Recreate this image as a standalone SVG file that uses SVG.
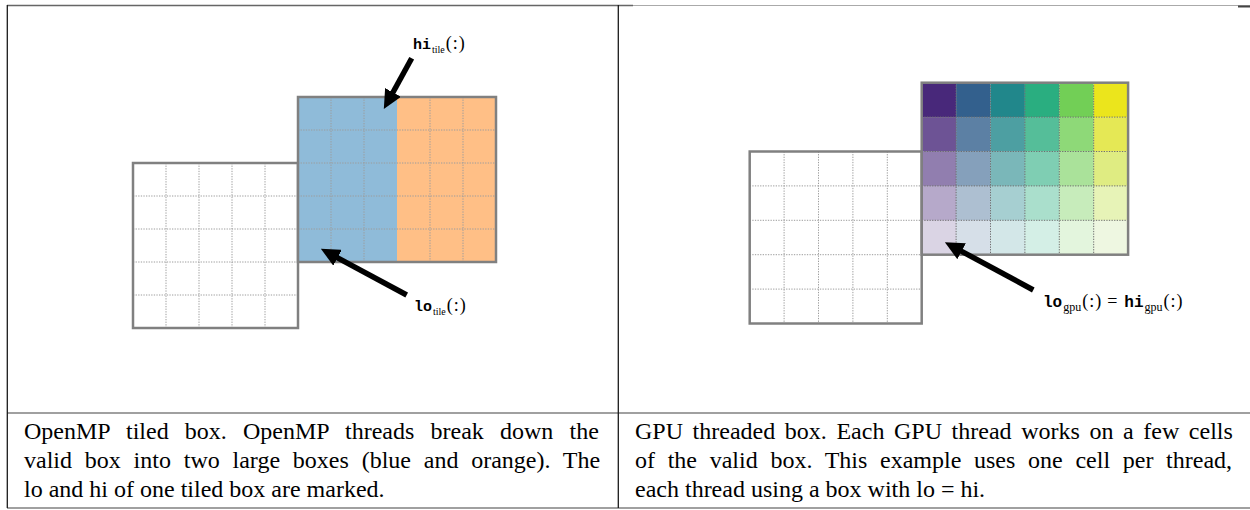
<svg xmlns="http://www.w3.org/2000/svg" width="1250" height="510" viewBox="0 0 1250 510">
<style>
.frame{fill:none;stroke:#808080;stroke-width:2.5}
.grid{fill:none;stroke:#9c9c9c;stroke-width:1;stroke-dasharray:1.3 1.3}
.gridd{fill:none;stroke:#6e6e6e;stroke-width:1;stroke-dasharray:1.3 1.3}
.tt{font-family:"Liberation Mono",monospace;font-weight:bold;font-size:15px}
.tt2{font-family:"Liberation Mono",monospace;font-weight:bold;font-size:16px}
.sub{font-family:"Liberation Serif",serif;font-size:10px}
.subg{font-family:"Liberation Serif",serif;font-size:12px}
.rm{font-family:"Liberation Serif",serif;font-size:18px;letter-spacing:1px}
.cap{font-family:"Liberation Serif",serif;font-size:24px;fill:#000}
.hline{stroke:#808080;stroke-width:1.5}
.vline{stroke:#1a1a1a;stroke-width:1.3}
.arrow{stroke:#000;stroke-width:5.5;fill:none;marker-end:url(#head)}
</style>
<defs>
<marker id="head" markerUnits="userSpaceOnUse" markerWidth="19" markerHeight="18" refX="1" refY="9" orient="auto">
<path d="M0,0 L19,9 L0,18 Z" fill="#000"/>
</marker>
</defs>
<rect width="1250" height="510" fill="#fff"/>

<g id="table">
<line x1="7" y1="5.5" x2="633" y2="5.5" stroke="#666" stroke-width="1.5"/>
<line x1="633" y1="5.5" x2="1250" y2="5.5" stroke="#aaa" stroke-width="1.2"/>
<line x1="1238" y1="6.5" x2="1250" y2="6.5" stroke="#444" stroke-width="2"/>
<line class="hline" x1="7" y1="413" x2="1250" y2="413"/>
<line class="hline" x1="7" y1="508" x2="1250" y2="508"/>
<line class="vline" x1="7.3" y1="5" x2="7.3" y2="508"/>
<line class="vline" x1="618.3" y1="5" x2="618.3" y2="508"/>
</g>

<g id="omp-valid-box">
<rect x="133" y="163" width="165" height="165" fill="#fff"/>
<path class="grid" d="M166,163V328M199,163V328M232,163V328M265,163V328M133,196H298M133,229H298M133,262H298M133,295H298"/>
<rect class="frame" x="133" y="163" width="165" height="165"/>
</g>

<g id="omp-tiled-box">
<rect x="298" y="97" width="99" height="165" fill="#8fbbd9"/>
<rect x="397" y="97" width="99" height="165" fill="#ffbf86"/>
<path class="grid" stroke="#8a8a8a" d="M331,97V262M364,97V262M430,97V262M463,97V262M298,130H496M298,163H496M298,196H496M298,229H496"/>
<rect class="frame" x="298" y="97" width="198" height="165"/>
</g>

<g id="omp-labels">
<text id="hi-tile" x="413" y="49"><tspan class="tt">hi</tspan><tspan class="sub" dx="1" dy="4">tile</tspan><tspan class="rm" dx="1" dy="-4">(:)</tspan></text>
<text id="lo-tile" x="414" y="311"><tspan class="tt">lo</tspan><tspan class="sub" dx="1" dy="4">tile</tspan><tspan class="rm" dx="1" dy="-4">(:)</tspan></text>
</g>

<g id="gpu-valid-box">
<rect x="749.7" y="151.5" width="172" height="172" fill="#fff"/>
<path class="grid" d="M784.1,151.5V323.5M818.5,151.5V323.5M852.9,151.5V323.5M887.3,151.5V323.5M749.7,185.9H921.7M749.7,220.3H921.7M749.7,254.7H921.7M749.7,289.1H921.7"/>
<rect class="frame" x="749.7" y="151.5" width="172" height="172"/>
</g>

<g id="gpu-threaded-box">
<g fill-opacity="1">
<rect x="921.7" y="82.7" width="34.4" height="34.4" fill="#48287a"/>
<rect x="956.1" y="82.7" width="34.4" height="34.4" fill="#33608d"/>
<rect x="990.5" y="82.7" width="34.4" height="34.4" fill="#21878b"/>
<rect x="1024.9" y="82.7" width="34.4" height="34.4" fill="#2aae80"/>
<rect x="1059.3" y="82.7" width="34.4" height="34.4" fill="#72cf56"/>
<rect x="1093.7" y="82.7" width="34.4" height="34.4" fill="#ebe51c"/>
</g>
<g fill-opacity="0.8">
<rect x="921.7" y="117.1" width="34.4" height="34.4" fill="#48287a"/>
<rect x="956.1" y="117.1" width="34.4" height="34.4" fill="#33608d"/>
<rect x="990.5" y="117.1" width="34.4" height="34.4" fill="#21878b"/>
<rect x="1024.9" y="117.1" width="34.4" height="34.4" fill="#2aae80"/>
<rect x="1059.3" y="117.1" width="34.4" height="34.4" fill="#72cf56"/>
<rect x="1093.7" y="117.1" width="34.4" height="34.4" fill="#dfe22a"/>
</g>
<g fill-opacity="0.6">
<rect x="921.7" y="151.5" width="34.4" height="34.4" fill="#48287a"/>
<rect x="956.1" y="151.5" width="34.4" height="34.4" fill="#33608d"/>
<rect x="990.5" y="151.5" width="34.4" height="34.4" fill="#21878b"/>
<rect x="1024.9" y="151.5" width="34.4" height="34.4" fill="#2aae80"/>
<rect x="1059.3" y="151.5" width="34.4" height="34.4" fill="#72cf56"/>
<rect x="1093.7" y="151.5" width="34.4" height="34.4" fill="#c9df2e"/>
</g>
<g fill-opacity="0.4">
<rect x="921.7" y="185.9" width="34.4" height="34.4" fill="#48287a"/>
<rect x="956.1" y="185.9" width="34.4" height="34.4" fill="#33608d"/>
<rect x="990.5" y="185.9" width="34.4" height="34.4" fill="#21878b"/>
<rect x="1024.9" y="185.9" width="34.4" height="34.4" fill="#2aae80"/>
<rect x="1059.3" y="185.9" width="34.4" height="34.4" fill="#72cf56"/>
<rect x="1093.7" y="185.9" width="34.4" height="34.4" fill="#c2e04a"/>
</g>
<g fill-opacity="0.2">
<rect x="921.7" y="220.3" width="34.4" height="34.4" fill="#48287a"/>
<rect x="956.1" y="220.3" width="34.4" height="34.4" fill="#33608d"/>
<rect x="990.5" y="220.3" width="34.4" height="34.4" fill="#21878b"/>
<rect x="1024.9" y="220.3" width="34.4" height="34.4" fill="#2aae80"/>
<rect x="1059.3" y="220.3" width="34.4" height="34.4" fill="#72cf56"/>
<rect x="1093.7" y="220.3" width="34.4" height="34.4" fill="#a8d86a"/>
</g>
<path class="gridd" d="M956.1,82.7V254.7M990.5,82.7V254.7M1024.9,82.7V254.7M1059.3,82.7V254.7M1093.7,82.7V254.7M921.7,117.1H1128.1M921.7,151.5H1128.1M921.7,185.9H1128.1M921.7,220.3H1128.1"/>
<rect class="frame" x="921.7" y="82.7" width="206.4" height="172"/>
</g>

<g id="gpu-label">
<text x="1043" y="307"><tspan class="tt2">lo</tspan><tspan class="subg" dx="1" dy="4">gpu</tspan><tspan class="rm" dx="1" dy="-4">(:)</tspan><tspan class="rm" dx="5">=</tspan><tspan class="tt2" dx="6">hi</tspan><tspan class="subg" dx="1" dy="4">gpu</tspan><tspan class="rm" dx="1" dy="-4">(:)</tspan></text>
</g>

<g id="connectors">
<line class="arrow" x1="411.7" y1="58.3" x2="392.5" y2="93.3"/>
<line class="arrow" x1="406.7" y1="295" x2="336.7" y2="257.3"/>
<line class="arrow" x1="1033.3" y1="290" x2="960.7" y2="250.8"/>
</g>

<g id="captions">
<text class="cap" x="24" y="439" word-spacing="10.2">OpenMP tiled box. OpenMP threads break down the</text>
<text class="cap" x="24" y="468" word-spacing="6.8">valid box into two large boxes (blue and orange). The</text>
<text class="cap" x="24" y="497">lo and hi of one tiled box are marked.</text>
<text class="cap" x="635" y="439" word-spacing="3.6">GPU threaded box. Each GPU thread works on a few cells</text>
<text class="cap" x="635" y="468" word-spacing="6.7">of the valid box. This example uses one cell per thread,</text>
<text class="cap" x="635" y="497">each thread using a box with lo = hi.</text>
</g>
</svg>
